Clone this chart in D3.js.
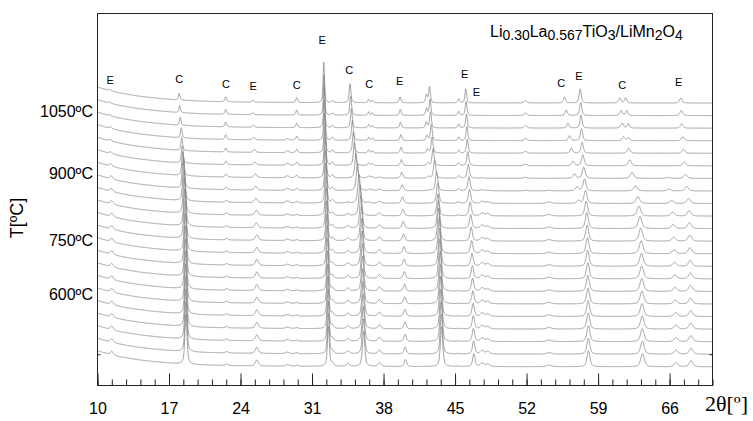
<!DOCTYPE html>
<html>
<head>
<meta charset="utf-8">
<script src="https://cdn.jsdelivr.net/npm/d3@7"></script>
<style>
  body { margin: 0; background: #fff; }
  svg text { font-family: "Liberation Sans", Arial, sans-serif; fill: #000; }
</style>
</head>
<body>
<svg id="chart" width="753" height="421"></svg>
<script>
"use strict";

// ---- data ----
// scans are listed top -> bottom (hottest first)
const temperatureTicks = [1050, 900, 750, 600];
const thetaMajor = [10, 17, 24, 31, 38, 45, 52, 59, 66];

// background above the baseline (a.u.) at a few 2theta values
const bgTheta = [10, 11, 12, 13, 14, 15, 16, 17, 18, 20, 22, 25, 30, 40, 70.2];
const bgLevel = [16, 13, 10.5, 8.6, 7, 5.8, 4.7, 3.8, 3, 2, 1.4, 0.9, 0.5, 0.2, 0];

// peak broadening per scan
const rowBroad = [1, 1, 1, 1.05, 1.1, 1.2, 1.3, 1.35, 1.4, 1.4, 1.4, 1.4, 1.4, 1.4, 1.4, 1.4, 1.4, 1.4, 1.4, 1.4, 1.4, 1.4];

// each reflection: [2theta, height] for every scan, top -> bottom
const e11 = [[11.2,1],[11.2,1],[11.2,1],[11.25,1.5],[11.25,1.5],[11.3,2],[11.3,2.5],[11.35,3],[11.35,3],[11.4,3.5],[11.4,3.5],
             [11.4,3.5],[11.4,3.5],[11.4,3.5],[11.4,3.5],[11.4,3.5],[11.4,3.5],[11.4,3.5],[11.4,3.5],[11.4,3.5],[11.4,3.5],[11.4,3.5]];
const c18 = [[18.0,7],[18.05,7],[18.1,8],[18.2,10],[18.25,13],[18.3,17],[18.35,24],[18.4,32],[18.45,40],[18.5,45],[18.55,48],
             [18.55,50],[18.6,50],[18.6,50],[18.62,50],[18.62,50],[18.64,50],[18.64,50],[18.65,50],[18.65,50],[18.66,50],[18.66,50]];
const c22 = [[22.55,5],[22.55,5],[22.55,5],[22.55,4.5],[22.55,4],[22.58,3.5],[22.6,3],[22.6,2.5],[22.62,2],[22.62,2],[22.65,1.5],
             [22.65,1.5],[22.65,1.5],[22.65,1.5],[22.65,1.5],[22.65,1.5],[22.65,1.5],[22.65,1.5],[22.65,1.5],[22.65,1.5],[22.65,1.5],[22.65,1.5]];
const e25 = [[25.2,2],[25.2,2],[25.25,2],[25.3,2.5],[25.35,3],[25.4,3],[25.45,3.5],[25.5,4],[25.5,4.5],[25.55,5],[25.55,5],
             [25.6,5.5],[25.6,5.5],[25.6,6],[25.6,6],[25.6,6],[25.6,6],[25.6,6],[25.6,6],[25.6,6],[25.6,6],[25.6,6]];
const c29 = [[29.5,5],[29.5,5],[29.5,4.5],[29.5,4],[29.5,3.5],[29.5,3],[29.5,2.5],[29.5,2],[29.5,1.5],[29.5,1],[29.5,1],
             [29.5,1],[29.5,1],[29.5,1],[29.5,1],[29.5,1],[29.5,1],[29.5,1],[29.5,1],[29.5,1],[29.5,1],[29.5,1]];
const x28 = [[28.6,0],[28.6,0],[28.6,0],[28.6,1.5],[28.6,2],[28.6,2],[28.6,2],[28.6,2],[28.6,2],[28.6,1.5],[28.6,1.5],
             [28.6,1.5],[28.6,1.5],[28.6,1.5],[28.6,1.5],[28.6,1.5],[28.6,1.5],[28.6,1.5],[28.6,1.5],[28.6,1.5],[28.6,1.5],[28.6,1.5]];
const e32 = [[32.15,41],[32.18,40],[32.2,40],[32.22,40],[32.25,40],[32.28,40],[32.3,40],[32.33,40],[32.36,40],[32.4,40],[32.42,40],
             [32.45,40],[32.47,40],[32.5,40],[32.52,40],[32.54,40],[32.55,40],[32.56,40],[32.57,40],[32.58,40],[32.6,40],[32.6,40]];
const x33 = [[33.0,2],[33.0,2],[33.0,2.5],[33.0,3],[33.0,3],[33.0,3],[33.0,3],[33.0,3],[33.0,3],[33.0,3],[33.0,3],
             [33.0,3],[33.0,3],[33.0,3],[33.0,3],[33.0,3],[33.0,3],[33.0,3],[33.0,3],[33.0,3],[33.0,3],[33.0,3]];
const x34 = [[34.5,0],[34.5,0],[34.5,0],[34.5,0],[34.5,0],[34.5,0],[34.5,0],[34.5,0],[34.5,1],[34.5,2],[34.5,2.5],
             [34.5,3],[34.5,3],[34.5,3],[34.5,3],[34.5,3],[34.5,3],[34.5,3],[34.5,3],[34.5,3],[34.5,3],[34.5,3]];
const c35 = [[34.72,19],[34.78,19],[34.85,19],[34.95,20],[35.05,21],[35.15,23],[35.3,25],[35.45,27],[35.6,29],[35.7,31],[35.78,33],
             [35.84,34],[35.88,35],[35.9,35],[35.93,35],[35.95,35],[35.97,35],[36.0,35],[36.0,35],[36.02,35],[36.03,35],[36.05,35]];
const c36a = [[36.55,3.5],[36.55,3.5],[36.55,3.5],[36.55,3],[36.55,3],[36.55,2.5],[36.55,2],[36.55,1.5],[36.55,1],[36.55,0],[36.55,0],
              [36.55,0],[36.55,0],[36.55,0],[36.55,0],[36.55,0],[36.55,0],[36.55,0],[36.55,0],[36.55,0],[36.55,0],[36.55,0]];
const c36b = [[36.9,2.5],[36.9,2.5],[36.9,2.5],[36.9,2.5],[36.9,2],[36.9,2],[36.9,1.5],[36.9,1],[36.9,0],[36.9,0],[36.9,0],
              [36.9,0],[36.9,0],[36.9,0],[36.9,0],[36.9,0],[36.9,0],[36.9,0],[36.9,0],[36.9,0],[36.9,0],[36.9,0]];
const s37 = [[37.6,0],[37.6,0],[37.6,0],[37.6,0],[37.6,0],[37.6,0],[37.6,1],[37.6,1.5],[37.6,2],[37.6,3],[37.6,3.5],
             [37.6,4],[37.6,4],[37.6,4],[37.6,4],[37.6,4],[37.6,4],[37.6,4],[37.6,4],[37.6,4],[37.6,4],[37.6,4]];
const e40 = [[39.62,6],[39.64,6],[39.66,6],[39.7,6],[39.72,6],[39.75,6],[39.78,6],[39.82,6],[39.86,6.5],[39.9,6.5],[39.93,7],
             [39.96,7],[40.0,7],[40.02,7],[40.04,7],[40.06,7],[40.08,7],[40.1,7],[40.1,7],[40.12,7],[40.12,7],[40.14,7]];
const a42 = [[42.5,16],[42.55,16],[42.6,16],[42.68,16],[42.75,16],[42.85,17],[43.0,18],[43.2,19],[43.3,20],[43.33,22],[43.37,28],
             [43.4,33],[43.45,36],[43.5,38],[43.52,40],[43.55,40],[43.58,40],[43.6,40],[43.62,40],[43.64,40],[43.66,40],[43.68,40]];
const sh42 = [[42.2,8],[42.2,7],[42.2,6],[42.25,5],[42.3,4],[42.35,3],[42.4,2],[42.5,1],[42.5,0],[42.5,0],[42.5,0],
              [42.5,0],[42.5,0],[42.5,0],[42.5,0],[42.5,0],[42.5,0],[42.5,0],[42.5,0],[42.5,0],[42.5,0],[42.5,0]];
const x45 = [[45.35,4],[45.35,4],[45.35,4],[45.35,3.5],[45.35,3],[45.35,3],[45.35,2.5],[45.35,2],[45.35,1.5],[45.35,1],[45.35,0.5],
             [45.35,0.5],[45.35,0.5],[45.35,0.5],[45.35,0.5],[45.35,0.5],[45.35,0.5],[45.35,0.5],[45.35,0.5],[45.35,0.5],[45.35,0.5],[45.35,0.5]];
const e46 = [[46.05,14],[46.08,14],[46.12,14],[46.16,14],[46.2,14],[46.25,14],[46.3,14],[46.36,14],[46.42,14],[46.48,14],[46.53,14],
             [46.58,14],[46.62,13],[46.66,13],[46.7,13],[46.72,13],[46.75,13],[46.77,13],[46.79,13],[46.8,13],[46.82,13],[46.84,13]];
const s48a = [[47.65,0],[47.65,0],[47.65,0],[47.65,0],[47.65,0],[47.65,0],[47.65,0.5],[47.65,1],[47.65,2],[47.65,3],[47.65,3.5],
              [47.65,3.5],[47.65,3.5],[47.65,3.5],[47.65,3.5],[47.65,3.5],[47.65,3.5],[47.65,3.5],[47.65,3.5],[47.65,3.5],[47.65,3.5],[47.65,3.5]];
const s48b = [[48.2,0],[48.2,0],[48.2,0],[48.2,0],[48.2,0],[48.2,0],[48.2,0],[48.2,0.5],[48.2,1.5],[48.2,2.5],[48.2,2.5],
              [48.2,2.5],[48.2,2.5],[48.2,2.5],[48.2,2.5],[48.2,2.5],[48.2,2.5],[48.2,2.5],[48.2,2.5],[48.2,2.5],[48.2,2.5],[48.2,2.5]];
const x52 = [[51.9,2.5],[51.9,2.5],[51.9,2.5],[51.9,2],[51.9,2],[51.9,1.5],[51.9,1],[51.9,0.5],[51.9,0],[51.9,0],[51.9,0],
             [51.9,0],[51.9,0],[51.9,0],[51.9,0],[51.9,0],[51.9,0],[51.9,0],[51.9,0],[51.9,0],[51.9,0],[51.9,0]];
const x54 = [[54.2,0],[54.2,0],[54.2,0],[54.2,0],[54.2,0],[54.2,0],[54.2,0],[54.2,0.5],[54.2,1.5],[54.2,1.5],[54.2,1.5],
             [54.2,1.5],[54.2,1.5],[54.2,1.5],[54.2,1.5],[54.2,1.5],[54.2,1.5],[54.2,1.5],[54.2,1.5],[54.2,1.5],[54.2,1.5],[54.2,1.5]];
const c55 = [[55.72,5.5],[55.88,5.5],[56.05,5],[56.2,5],[56.38,5],[56.54,4.5],[56.7,4.5],[56.95,4],[57.1,3],[57.1,0],[57.1,0],
             [57.1,0],[57.1,0],[57.1,0],[57.1,0],[57.1,0],[57.1,0],[57.1,0],[57.1,0],[57.1,0],[57.1,0],[57.1,0]];
const e57 = [[57.25,14],[57.3,13],[57.33,13],[57.38,12],[57.44,11],[57.51,11],[57.6,11],[57.67,12],[57.77,13],[57.84,15],[57.9,16],
             [57.93,16],[57.96,16],[57.98,16],[58.0,16],[58.0,16],[58.02,16],[58.03,16],[58.04,16],[58.05,16],[58.05,16],[58.06,16]];
const c61 = [[61.12,5],[61.25,5],[61.36,5],[61.5,4],[62.0,5],[62.1,6],[62.33,6],[62.66,5],[62.9,7],[63.0,10],[63.1,12],
             [63.18,13],[63.22,13],[63.25,13],[63.27,13],[63.28,13],[63.3,13],[63.3,13],[63.32,13],[63.33,13],[63.34,13],[63.35,13]];
const c61b = [[61.7,5],[61.8,5],[61.95,4.5],[62.0,3],[62.0,0],[62.0,0],[62.0,0],[62.0,0],[62.0,0],[62.0,0],[62.0,0],
              [62.0,0],[62.0,0],[62.0,0],[62.0,0],[62.0,0],[62.0,0],[62.0,0],[62.0,0],[62.0,0],[62.0,0],[62.0,0]];
const s66 = [[65.8,0],[65.8,0],[65.8,0],[65.8,0],[65.8,0],[65.8,0],[65.8,1],[65.95,2],[66.2,3],[66.3,4],[66.35,4],
             [66.4,4],[66.45,4],[66.5,4],[66.52,4],[66.55,4],[66.57,4],[66.6,4],[66.62,4],[66.63,4],[66.64,4],[66.65,4]];
const e67 = [[67.1,5],[67.15,5],[67.18,4.5],[67.3,4],[67.35,4],[67.45,4],[67.55,4],[67.67,4.5],[67.86,5],[67.92,5.5],[67.95,6],
             [67.98,6],[68.0,6],[68.02,6],[68.04,6],[68.05,6],[68.06,6],[68.07,6],[68.08,6],[68.08,6],[68.1,6],[68.1,6]];

// phase marks above the top scan
const markText  = ['E', 'C', 'C', 'E', 'C', 'E', 'C', 'C', 'E', 'E', 'E', 'C', 'E', 'C', 'E'];
const markTheta = [11.25, 17.99, 22.58, 25.25, 29.49, 32.0, 34.64, 36.6, 39.59, 45.94, 47.09, 55.4, 57.12, 61.36, 66.89];

// ---- layout ----
const plot = { left: 97.5, right: 712.5, top: 13.5, bottom: 385.5 };
const rowGap = 12.56;           // vertical offset between scans (a.u.)
const markLift = [6, 10, 9, 10, 8, 18, 10, 11, 12, 11, 7, 11, 9, 9, 12];

// peak table built from the named lists: [points, fwhm]
const reflections = [
  [e11, 0.25], [c18, 0.18], [c22, 0.2], [e25, 0.25], [c29, 0.2], [x28, 0.3],
  [e32, 0.16], [x33, 0.2], [x34, 0.25], [c35, 0.2], [c36a, 0.18], [c36b, 0.18],
  [s37, 0.25], [e40, 0.2], [a42, 0.2], [sh42, 0.2], [x45, 0.2], [e46, 0.2],
  [s48a, 0.3], [s48b, 0.3], [x52, 0.3], [x54, 0.4], [c55, 0.25], [e57, 0.25],
  [c61, 0.3], [c61b, 0.25], [s66, 0.3], [e67, 0.3]
];
const nRows = rowBroad.length;

// scales
const x = d3.scaleLinear().domain([10, 70.2]).range([plot.left, plot.right]);
const y = d3.scaleLinear().domain([0, 300]).range([366.8, 66.8]);
const bg = d3.scaleLinear().domain(bgTheta).range(bgLevel).clamp(true);
const tempY = d3.scaleLinear().domain([600, 750, 900, 1050]).range([294, 240, 173, 111]);

// pseudo-Voigt profile
function peak(t, c, h, w) {
  const d = (t - c) / w, d2 = 4 * d * d;
  return h * (0.55 / (1 + d2) + 0.45 * Math.exp(-Math.LN2 * d2));
}

const grid = d3.range(10, 70.2001, 0.02);

function scan(k) {
  const offset = (nRows - 1 - k) * rowGap;
  return grid.map(t => {
    let v = bg(t);
    for (const [pts, fw] of reflections) {
      const [c, h] = pts[k];
      if (h > 0) v += peak(t, c, h, fw * rowBroad[k]);
    }
    return [t, offset + v];
  });
}

const svg = d3.select('#chart');

svg.append('clipPath').attr('id', 'plotclip')
  .append('rect')
    .attr('x', plot.left).attr('y', plot.top)
    .attr('width', plot.right - plot.left).attr('height', plot.bottom - plot.top);

const line = d3.line()
  .x(d => x(d[0]))
  .y(d => y(d[1]));

const scans = d3.range(nRows).reverse().map(k => ({ k, pts: scan(k) }));

svg.append('g')
    .attr('clip-path', 'url(#plotclip)')
  .selectAll('path')
  .data(scans)
  .enter().append('path')
    .attr('d', d => line(d.pts))
    .attr('fill', 'none')
    .attr('stroke', '#858585')
    .attr('stroke-width', 0.75);

// phase marks: placed above the local maximum of the top scan
const topScan = scans[scans.length - 1].pts;
svg.append('g').selectAll('text')
  .data(markText)
  .enter().append('text')
    .attr('x', (d, i) => x(markTheta[i]))
    .attr('y', (d, i) => {
      const near = topScan.filter(p => Math.abs(p[0] - markTheta[i]) < 0.3);
      return y(d3.max(near, p => p[1])) - markLift[i];
    })
    .attr('text-anchor', 'middle')
    .attr('font-size', 11)
    .text(d => d);

// frame
svg.append('rect')
    .attr('x', plot.left).attr('y', plot.top)
    .attr('width', plot.right - plot.left).attr('height', plot.bottom - plot.top)
    .attr('fill', 'none')
    .attr('stroke', '#222')
    .attr('stroke-width', 1);

// x axis: major ticks with labels, minor ticks inside
const xMajor = d3.axisBottom(x)
  .tickValues(thetaMajor)
  .tickSize(-12)
  .tickPadding(17)
  .tickFormat(d3.format('d'));
const minor = d3.range(0, 44).map(i => 10 + i * 1.4).filter(v => v <= 70.21);
const xMinor = d3.axisBottom(x).tickValues(minor).tickSize(-6).tickFormat('');

const gMinor = svg.append('g').attr('transform', `translate(0,${plot.bottom})`).call(xMinor);
const gMajor = svg.append('g').attr('transform', `translate(0,${plot.bottom})`).call(xMajor);
[gMinor, gMajor].forEach(g => {
  g.select('.domain').remove();
  g.selectAll('line').attr('stroke', '#222');
});
gMajor.selectAll('text')
  .attr('font-size', 16)
  .attr('fill', '#000')
  .style('font-family', '"Liberation Sans", Arial, sans-serif');

// little side ticks at the second-lowest baseline
const yTickL = d3.axisRight(y).tickValues([rowGap]).tickSize(3).tickFormat('');
const yTickR = d3.axisLeft(y).tickValues([rowGap]).tickSize(3).tickFormat('');
svg.append('g').attr('transform', `translate(${plot.left},0)`).call(yTickL)
  .call(g => g.select('.domain').remove()).selectAll('line').attr('stroke', '#222');
svg.append('g').attr('transform', `translate(${plot.right},0)`).call(yTickR)
  .call(g => g.select('.domain').remove()).selectAll('line').attr('stroke', '#222');

// temperature labels
svg.append('g').selectAll('text')
  .data(temperatureTicks)
  .enter().append('text')
    .attr('x', 93)
    .attr('y', d => tempY(d))
    .attr('dy', '0.36em')
    .attr('text-anchor', 'end')
    .attr('font-size', 16)
    .text(d => d + 'ºC');

// axis titles
svg.append('text')
    .attr('transform', 'translate(23,218) rotate(-90)')
    .attr('text-anchor', 'middle')
    .attr('font-size', 18)
    .text('T[ºC]');

svg.append('text')
    .attr('x', 705)
    .attr('y', 411)
    .attr('font-size', 22)
    .style('font-family', '"Liberation Serif", "Times New Roman", serif')
    .text('2θ[º]');

// sample name
const title = svg.append('text')
    .attr('x', 490)
    .attr('y', 37)
    .attr('font-size', 16);
const parts = [['Li', 0], ['0.30', 1], ['La', 0], ['0.567', 1], ['TiO', 0], ['3', 1], ['/LiMn', 0], ['2', 1], ['O', 0], ['4', 1]];
let prevSub = 0;
parts.forEach(([s, sub]) => {
  title.append('tspan')
    .attr('dy', (sub - prevSub) * 3)
    .attr('font-size', sub ? 14 : 16)
    .text(s);
  prevSub = sub;
});
</script>
</body>
</html>
